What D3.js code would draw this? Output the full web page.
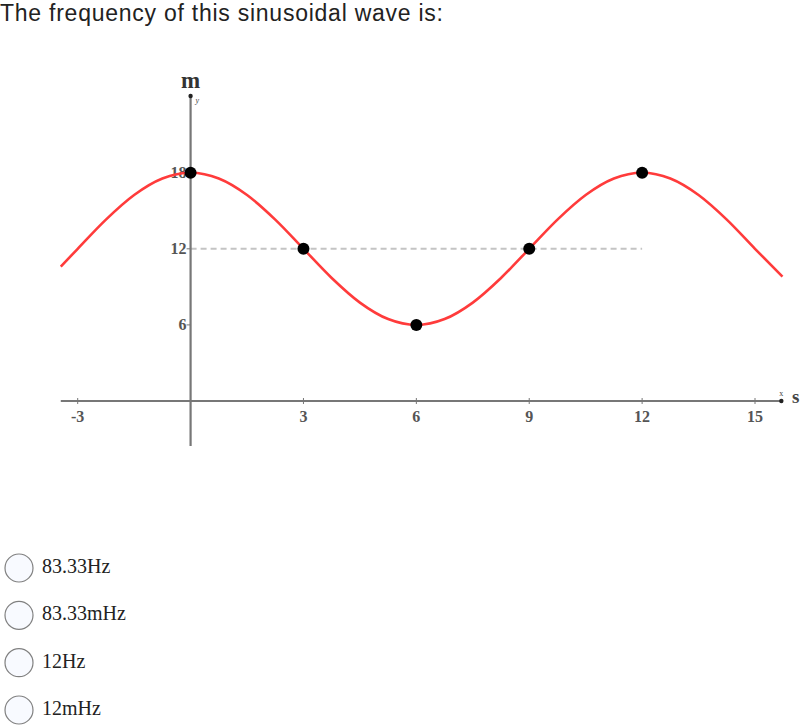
<!DOCTYPE html>
<html>
<head>
<meta charset="utf-8">
<script src="https://cdn.jsdelivr.net/npm/d3@7"></script>
<style>
  body { margin: 0; background: #fff; }
  svg { display: block; }
</style>
</head>
<body>
<svg id="canvas"></svg>
<script>
const WIDTH = 806;
const HEIGHT = 726;

// question and answers
const question = "The frequency of this sinusoidal wave is:";
const answers = ["83.33Hz", "83.33mHz", "12Hz", "12mHz"];

// tick labels
const xTicks = [-3, 3, 6, 9, 12, 15];
const yTicks = [6, 12, 18];

// marked points on the wave
const markedX = [0, 3, 6, 9, 12];
const markedY = [18, 12, 6, 12, 18];

// curve samples
const waveX = [-3.45, -3, -2.25, -1.5, -0.75, 0, 0.75, 1.5, 2.25, 3, 3.75, 4.5, 5.25, 6,
    6.75, 7.5, 8.25, 9, 9.75, 10.5, 11.25, 12, 12.75, 13.5, 14.25, 15, 15.73];
const waveY = [10.6, 12, 14.3, 16.24, 17.54, 18, 17.54, 16.24, 14.3, 12, 9.7, 7.76, 6.46, 6,
    6.46, 7.76, 9.7, 12, 14.3, 16.24, 17.54, 18, 17.54, 16.24, 14.3, 12, 9.8];

const svg = d3.select('#canvas')
    .attr('width', WIDTH)
    .attr('height', HEIGHT);

// scales
const scaleX = d3.scaleLinear([-3, 15], [77.7, 755]);
const scaleY = d3.scaleLinear([0, 18], [401, 172.7]);

svg.append('text')
    .attr('x', 0)
    .attr('y', 21)
    .attr('font-family', 'Liberation Sans, Arial, sans-serif')
    .attr('font-size', 23)
    .attr('textLength', 443)
    .attr('lengthAdjust', 'spacing')
    .attr('fill', '#222')
    .text(question);

const plot = svg.append('g');
const axisColor = '#777';
const labelFont = 'Liberation Serif, Times New Roman, serif';

// dashed midline
plot.append('line')
    .attr('x1', scaleX(0)).attr('x2', scaleX(12))
    .attr('y1', scaleY(12)).attr('y2', scaleY(12))
    .attr('stroke', '#c4c4c4')
    .attr('stroke-width', 2)
    .attr('stroke-dasharray', '6,4');

// x axis
plot.append('line')
    .attr('x1', scaleX(-3.45)).attr('x2', scaleX(15.7))
    .attr('y1', scaleY(0)).attr('y2', scaleY(0))
    .attr('stroke', axisColor).attr('stroke-width', 2.2);
plot.append('circle')
    .attr('cx', scaleX(15.7)).attr('cy', scaleY(0)).attr('r', 2.2).attr('fill', '#222');
plot.append('text')
    .attr('x', scaleX(15.7) - 2).attr('y', scaleY(0) - 5)
    .attr('font-family', labelFont).attr('font-size', 8).attr('fill', '#444')
    .text('x');

plot.selectAll('.xtick')
    .data(xTicks)
    .enter()
    .append('line')
    .attr('x1', d => scaleX(d)).attr('x2', d => scaleX(d))
    .attr('y1', scaleY(0) - 3).attr('y2', scaleY(0) + 3)
    .attr('stroke', axisColor).attr('stroke-width', 1);

plot.selectAll('.xlabel')
    .data(xTicks)
    .enter()
    .append('text')
    .attr('x', d => scaleX(d))
    .attr('y', scaleY(0) + 21)
    .attr('text-anchor', 'middle')
    .attr('font-family', labelFont).attr('font-size', 16).attr('font-weight', 'bold')
    .attr('fill', '#555')
    .text(d => d);

plot.append('text')
    .attr('x', 792).attr('y', 403)
    .attr('font-family', labelFont).attr('font-size', 19).attr('font-weight', 'bold')
    .attr('fill', '#444')
    .text('s');

// y axis
plot.append('line')
    .attr('x1', scaleX(0)).attr('x2', scaleX(0))
    .attr('y1', 96).attr('y2', 446)
    .attr('stroke', axisColor).attr('stroke-width', 2.2);
plot.append('circle')
    .attr('cx', scaleX(0)).attr('cy', 96).attr('r', 2.2).attr('fill', '#222');
plot.append('text')
    .attr('x', scaleX(0) + 5).attr('y', 103)
    .attr('font-family', labelFont).attr('font-size', 8).attr('font-style', 'italic')
    .attr('fill', '#444')
    .text('y');

plot.selectAll('.ytick')
    .data(yTicks)
    .enter()
    .append('line')
    .attr('x1', scaleX(0) - 4).attr('x2', scaleX(0))
    .attr('y1', d => scaleY(d)).attr('y2', d => scaleY(d))
    .attr('stroke', axisColor).attr('stroke-width', 1);

plot.selectAll('.ylabel')
    .data(yTicks)
    .enter()
    .append('text')
    .attr('x', scaleX(0) - 4)
    .attr('y', d => scaleY(d) + 5.5)
    .attr('text-anchor', 'end')
    .attr('font-family', labelFont).attr('font-size', 16).attr('font-weight', 'bold')
    .attr('fill', '#555')
    .text(d => d);

plot.append('text')
    .attr('x', scaleX(0)).attr('y', 88)
    .attr('text-anchor', 'middle')
    .attr('font-family', labelFont).attr('font-size', 23).attr('font-weight', 'bold')
    .attr('fill', '#333')
    .text('m');

// the wave
const wave = d3.line()
    .x(i => scaleX(waveX[i]))
    .y(i => scaleY(waveY[i]))
    .curve(d3.curveMonotoneX);

plot.append('path')
    .attr('d', wave(d3.range(waveX.length)))
    .attr('fill', 'none')
    .attr('stroke', '#ff3b3b')
    .attr('stroke-width', 2.6);

plot.selectAll('.dot')
    .data(markedX)
    .enter()
    .append('circle')
    .attr('cx', d => scaleX(d))
    .attr('cy', (d, i) => scaleY(markedY[i]))
    .attr('r', 6)
    .attr('fill', '#000');

// answer choices
const optY = d3.scaleLinear([0, 3], [568, 710]);

const opts = svg.selectAll('.opt')
    .data(answers)
    .enter()
    .append('g')
    .attr('transform', (d, i) => `translate(0, ${optY(i)})`);

opts.append('circle')
    .attr('cx', 19).attr('cy', 0).attr('r', 14)
    .attr('fill', '#f8faff')
    .attr('stroke', '#808080').attr('stroke-width', 1.2);

opts.append('text')
    .attr('x', 42).attr('y', 5)
    .attr('font-family', labelFont).attr('font-size', 20)
    .attr('fill', '#222')
    .text(d => d);
</script>
</body>
</html>
